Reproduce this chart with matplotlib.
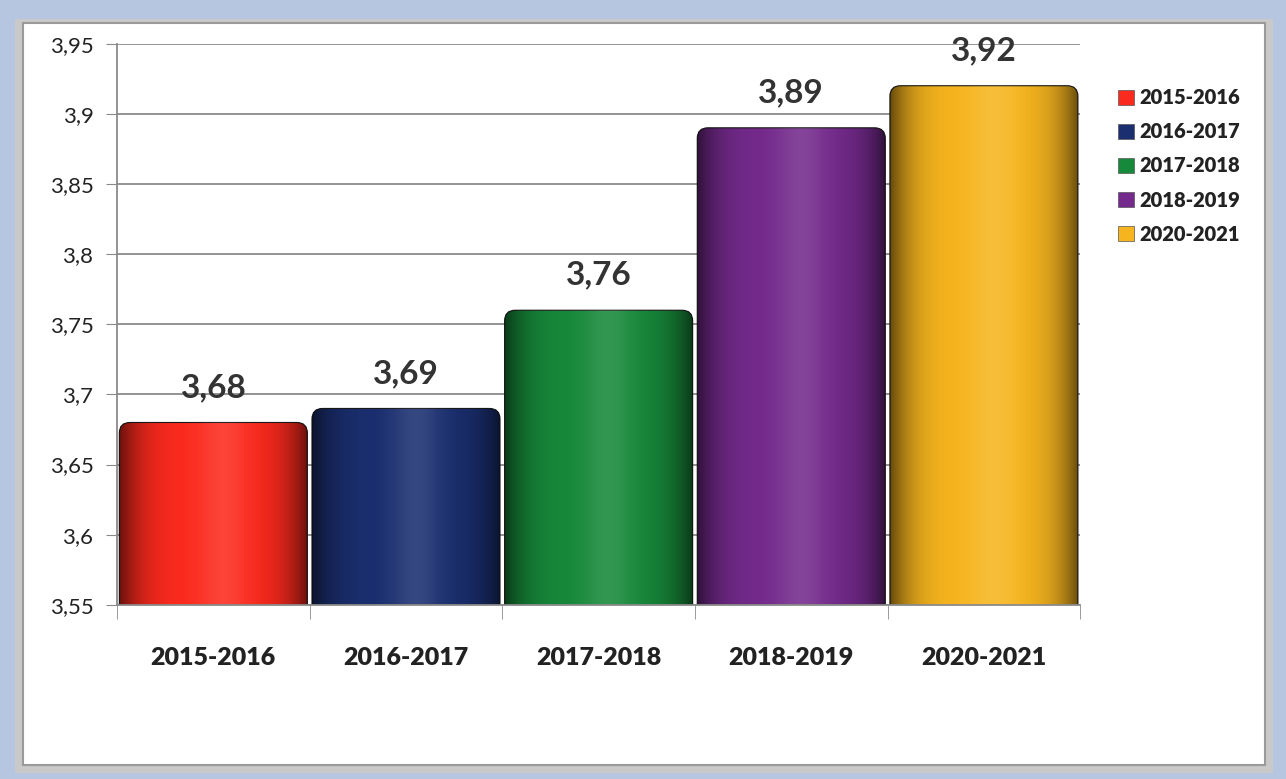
import numpy as np
import matplotlib.pyplot as plt
from matplotlib.patches import FancyBboxPatch, Rectangle
from matplotlib.ticker import MultipleLocator, FuncFormatter

# data
years = ['2015-2016', '2016-2017', '2017-2018', '2018-2019', '2020-2021']
values = [3.68, 3.69, 3.76, 3.89, 3.92]
labels = ['3,68', '3,69', '3,76', '3,89', '3,92']
colors = ['#fb2a1e', '#1b2f70', '#17893a', '#742a8c', '#f6b51e']

plt.rcParams['font.family'] = ['Lato', 'DejaVu Sans']

fig = plt.figure(figsize=(12.86, 7.79), dpi=100)
fig.patch.set_facecolor('#b7c6e0')

# white panel with soft frame
fig.patches.append(Rectangle((0.012, 0.008), 0.978, 0.968, transform=fig.transFigure,
                             facecolor='#c9c9c9', edgecolor='none', zorder=-10))
fig.patches.append(Rectangle((0.018, 0.018), 0.966, 0.952, transform=fig.transFigure,
                             facecolor='white', edgecolor='#9a9a9a', lw=1.5, zorder=-9))

ax = fig.add_axes([0.091, 0.2235, 0.749, 0.7205])
ax.set_facecolor('none')
x = np.arange(len(years))
bars = ax.bar(x, [v - 3.55 for v in values], bottom=3.55, width=1.0,
              color=colors, edgecolor='none', zorder=3)

# cylinder-like shading: darken toward the sides
grad = np.linspace(-1, 1, 300)
dark = np.zeros((2, 300, 4))
dark[..., 3] = 0.65 * np.abs(grad) ** 4
light = np.ones((2, 300, 4))
light[..., 3] = 0.12 * np.exp(-((grad - 0.1) / 0.25) ** 2)
for b, c in zip(bars, colors):
    x0, y0 = b.get_x(), b.get_y()
    w, h = b.get_width(), b.get_height()
    b.set_visible(False)
    # start a little below the axis so only the top corners look rounded
    rounded = FancyBboxPatch((x0 + 0.012, y0 - 0.02), w - 0.024, h + 0.02,
                             boxstyle='round,pad=0,rounding_size=0.055',
                             mutation_aspect=0.137,
                             facecolor=c, edgecolor='#1a1a1a', lw=0.8, zorder=3)
    ax.add_patch(rounded)
    for arr in (dark, light):
        img = ax.imshow(arr, extent=(x0, x0 + w, y0, y0 + h), aspect='auto',
                        zorder=4, interpolation='bilinear')
        img.set_clip_path(rounded)

for xi, v, lab in zip(x, values, labels):
    ax.text(xi, v + 0.025, lab, ha='center', va='center', fontsize=24,
            fontweight='bold', color='#333333', zorder=6)

ax.set_xlim(-0.5, 4.5)
ax.set_ylim(3.55, 3.95)
ax.yaxis.set_major_locator(MultipleLocator(0.05))
ax.yaxis.set_major_formatter(FuncFormatter(
    lambda v, p: ('%g' % round(v, 2)).replace('.', ',')))
ax.grid(axis='y', color='#8a8a8a', lw=1.3, zorder=0)
ax.tick_params(axis='y', labelsize=16, length=8, color='#8a8a8a',
               labelcolor='#222222', pad=9)
ax.set_xticks(x)
ax.set_xticklabels(years, fontsize=18, fontweight='heavy', color='#222222')
ax.tick_params(axis='x', length=0, pad=30)
ax.set_xticks(np.arange(-0.5, 5, 1), minor=True)
ax.tick_params(axis='x', which='minor', length=10, color='#8a8a8a')
for s in ['top', 'right']:
    ax.spines[s].set_visible(False)
for s in ['left', 'bottom']:
    ax.spines[s].set_color('#8a8a8a')
    ax.spines[s].set_linewidth(1.3)
    ax.spines[s].set_zorder(5)

# legend
handles = [Rectangle((0, 0), 1, 1, facecolor=c, edgecolor='#555555', lw=0.5) for c in colors]
leg = fig.legend(handles, years, loc='upper left', bbox_to_anchor=(0.855, 0.91),
                 frameon=False, prop={'size': 14.5, 'weight': 'heavy'},
                 handlelength=0.8, handleheight=0.8, handletextpad=0.3,
                 labelspacing=0.75)
for t in leg.get_texts():
    t.set_color('#222222')

fig.savefig('out.png', dpi=100, facecolor=fig.get_facecolor())
